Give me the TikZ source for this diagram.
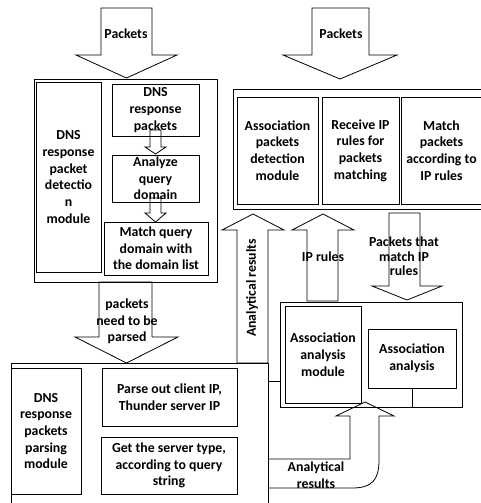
\documentclass[tikz,border=0pt]{standalone}
\usepackage{fontspec}
\setmainfont{Carlito}
\newcommand\txt{\fontsize{13.8}{16.7}\selectfont\bfseries}
\newcommand\txtt{\fontsize{13.8}{14.6}\selectfont\bfseries}
% block arrow: shaft left x, shaft right x, base y, shoulder y, wing left x, wing right x, tip y
\newcommand\blockarrow[7]{%
  \draw[blk] (#1,#3) -- (#1,#4) -- (#5,#4) -- ({(#5+#6)/2},#7) -- (#6,#4) -- (#2,#4) -- (#2,#3) -- cycle;}
\tikzset{
  box/.style={draw, line width=0.8pt, inner sep=0pt, align=center, font=\txt},
  blk/.style={draw, line width=0.8pt, line join=miter},
  lbl/.style={align=center, font=\txt, inner sep=0pt},
}
\begin{document}
\begin{tikzpicture}[x=1pt,y=-1pt]
\useasboundingbox (0,0) rectangle (481,503);
\clip (0,0) rectangle (481,503);

% DNS response packet detection module
\node[box, minimum width=183pt, minimum height=203pt] (dnsout) at (125.5,180.5) {};
\node[box, minimum width=65pt, minimum height=190pt] (dnsmod) at (68.5,177)
  {DNS\\response\\packet\\detectio\\n\\module};
\node[box, minimum width=87pt, minimum height=52pt] (dnspk) at (155.5,110)
  {DNS\\response\\packets};
\node[box, minimum width=87pt, minimum height=47pt] (anaq) at (155.5,178.5)
  {Analyze\\query\\domain};
\node[box, minimum width=104pt, minimum height=53pt] (matchq) at (156,248.5)
  {Match query\\domain with\\the domain list};

% association packets detection module
\node[box, minimum width=251pt, minimum height=120pt] (assocout) at (358.5,149) {};
\node[box, minimum width=81pt, minimum height=107pt] (assocdet) at (277.5,150.5)
  {Association\\packets\\detection\\module};
\node[box, minimum width=77pt, minimum height=107pt] (recvip) at (360.5,150.5)
  {Receive IP\\rules for\\packets\\matching};
\node[box, minimum width=81pt, minimum height=107pt] (matchpk) at (441.5,150.5)
  {Match\\packets\\according to\\IP rules};

% association analysis module
\node[box, minimum width=182pt, minimum height=105pt] (anout) at (371,354.5) {};
\node[box, minimum width=76pt, minimum height=97pt] (anmod) at (323,354.5)
  {Association\\analysis\\module};
\node[box, minimum width=88pt, minimum height=59pt] (ana) at (412,358.5)
  {Association\\analysis};
\draw[blk] (ana.south) -- (ana.south |- anout.south);

% DNS response packets parsing module
\node[box, minimum width=257pt, minimum height=157pt] (bout) at (139.5,441.5) {};
\node[box, minimum width=70pt, minimum height=126pt] (parsemod) at (46,431)
  {DNS\\response\\packets\\parsing\\module};
\node[box, minimum width=135pt, minimum height=58pt] (parseip) at (169.5,397)
  {Parse out client IP,\\Thunder server IP};
\node[box, minimum width=136pt, minimum height=57pt] (gettype) at (169,465.5)
  {Get the server type,\\according to query\\string};
\draw[blk] (bout.east |- 0,381) -- (anout.west |- 0,381);

% flows
\blockarrow{101}{152}{8}{55}{76}{177}{78}
\node[lbl] (pk1) at (126,34) {Packets};
\blockarrow{312}{369}{8}{55}{283}{397}{79}
\node[lbl] (pk2) at (341,34) {Packets};
\blockarrow{150}{161}{130}{147}{145}{166}{154}
\blockarrow{150}{161}{198}{213}{145}{166}{222}
\blockarrow{99}{152}{282}{337}{75}{178}{363}
\node[lbl] (parsed) at (127,321.5) {packets\\need to be\\parsed};
\blockarrow{237}{268}{363}{230}{222}{284}{214}
\node[lbl, rotate=90] (res1) at (252,288) {Analytical results};
\blockarrow{307}{338}{301}{230}{292}{354}{214}
\node[lbl] (iprules) at (323,257) {IP rules};
\blockarrow{389}{420}{213}{286}{372}{442}{300}
\node[lbl, font=\txtt] (matchip) at (404,256.5) {Packets that\\match IP\\rules};

% analytical results fed back into the association analysis
\draw[blk] (268,459) -- (350,459) -- (350,416) -- (336,416) -- (365,402)
  -- (394,416) -- (379,416) -- (379,460)
  .. controls (379,480) and (372,488) .. (352,488) -- (268,488);
\node[lbl] (res2) at (316,475) {Analytical\\results};
\end{tikzpicture}
\end{document}
